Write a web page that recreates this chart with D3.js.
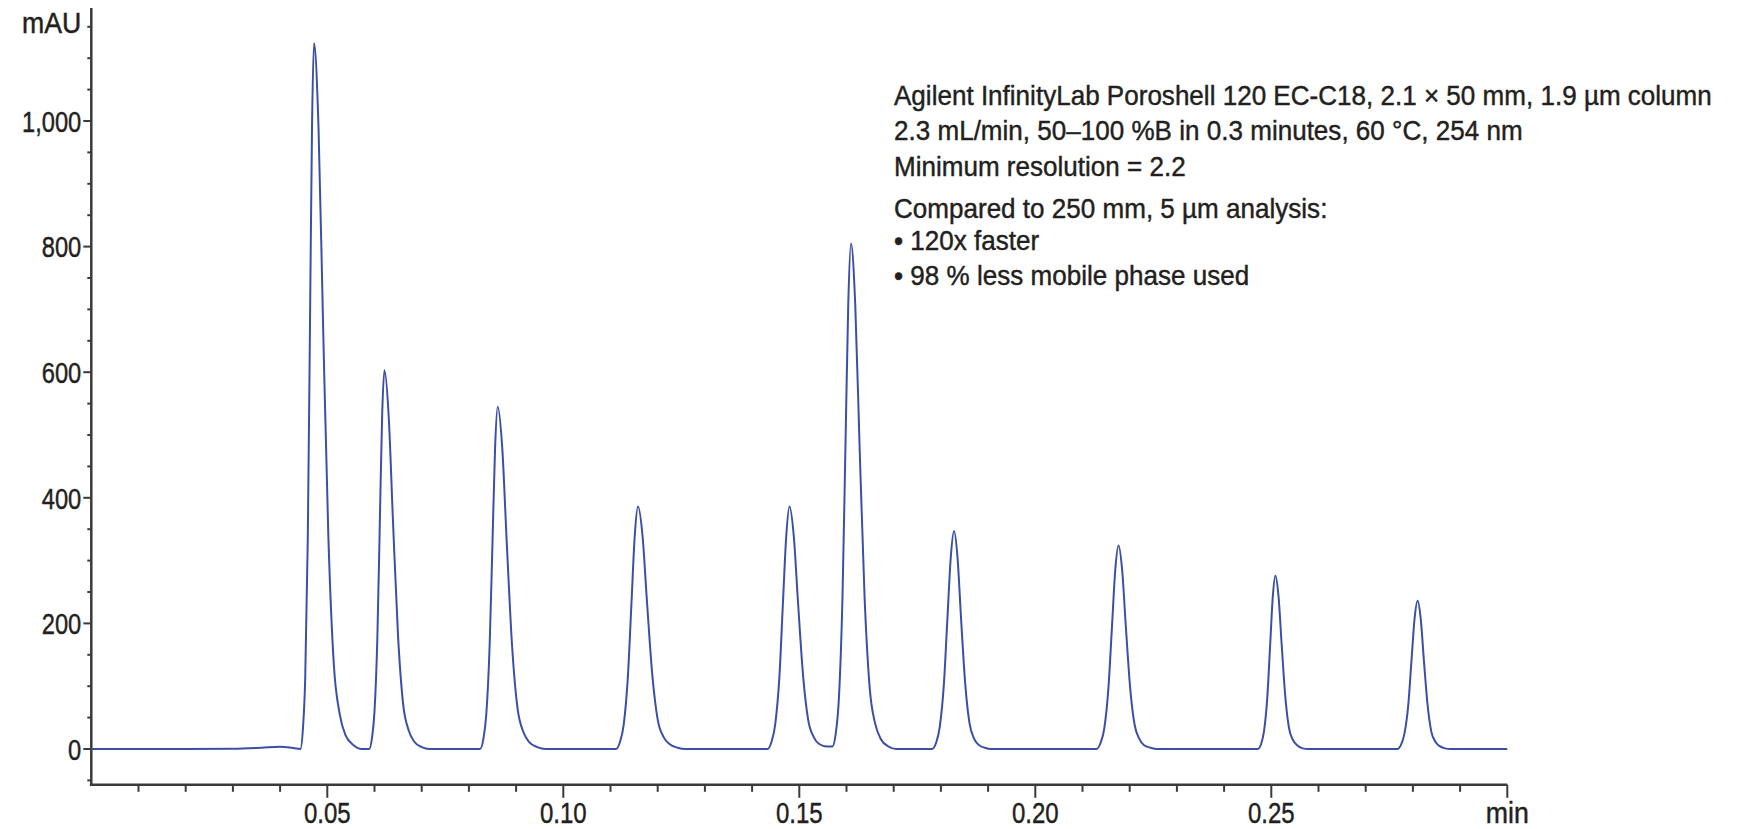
<!DOCTYPE html>
<html>
<head>
<meta charset="utf-8">
<script src="https://cdn.jsdelivr.net/npm/d3@7"></script>
<style>
  html, body { margin: 0; padding: 0; background: #fff; }
  svg text { font-family: "Liberation Sans", Arial, sans-serif; fill: #231f20; stroke: #231f20; stroke-width: 0.45px; }
</style>
</head>
<body>
<svg id="chart"></svg>
<script>
// chromatogram trace: [time (min), absorbance (mAU)]
var trace = [
  [0, 0], [0.010, 0], [0.020, 0], [0.030, 0.5], [0.036, 2], [0.040, 3.5], [0.042, 2.5], [0.0438, 0.5],
  // peak 1
  [0.04430, 0], [0.04485, 34], [0.04532, 112], [0.04587, 337], [0.04633, 674], [0.04676, 989], [0.04718, 1124],
  [0.04814, 989], [0.04911, 674], [0.05023, 337], [0.05138, 135], [0.05262, 56], [0.05386, 22], [0.05557, 6], [0.05729, 0],
  // peak 2
  [0.05886, 0], [0.05948, 18], [0.06000, 60], [0.06062, 181], [0.06113, 362], [0.06162, 531], [0.06210, 603],
  [0.06300, 531], [0.06392, 362], [0.06498, 181], [0.06606, 72], [0.06723, 30], [0.06840, 12], [0.07002, 3], [0.07164, 0],
  // peak 3
  [0.08236, 0], [0.08307, 16], [0.08368, 55], [0.08439, 164], [0.08499, 327], [0.08555, 480], [0.08610, 545],
  [0.08706, 480], [0.08803, 327], [0.08915, 164], [0.09030, 65], [0.09154, 27], [0.09278, 11], [0.09449, 3], [0.09621, 0],
  // peak 4
  [0.11114, 0], [0.11204, 12], [0.11280, 39], [0.11369, 116], [0.11444, 232], [0.11514, 340], [0.11583, 386],
  [0.11678, 340], [0.11775, 232], [0.11888, 116], [0.12002, 46], [0.12126, 19], [0.12250, 8], [0.12422, 2], [0.12593, 0],
  // peak 5
  [0.14324, 0], [0.14414, 12], [0.14489, 39], [0.14579, 116], [0.14653, 232], [0.14724, 340], [0.14792, 386],
  [0.14882, 340], [0.14974, 232], [0.15081, 116], [0.15189, 46], [0.15306, 19], [0.15423, 8], [0.15585, 4],
  // peak 6
  [0.15699, 4], [0.15775, 26], [0.15839, 81], [0.15915, 242], [0.15978, 483], [0.16037, 708], [0.16095, 805],
  [0.16185, 708], [0.16277, 483], [0.16383, 242], [0.16492, 97], [0.16609, 40], [0.16726, 16], [0.16888, 4], [0.17050, 0],
  // peak 7
  [0.17809, 0], [0.17899, 10], [0.17975, 35], [0.18064, 104], [0.18138, 208], [0.18209, 305], [0.18278, 347],
  [0.18352, 305], [0.18427, 208], [0.18515, 104], [0.18604, 42], [0.18700, 17], [0.18797, 7], [0.18930, 2], [0.19064, 0],
  // peak 8
  [0.21295, 0], [0.21384, 10], [0.21460, 32], [0.21549, 97], [0.21624, 194], [0.21694, 285], [0.21763, 324],
  [0.21840, 285], [0.21919, 194], [0.22010, 97], [0.22103, 39], [0.22204, 16], [0.22304, 6], [0.22443, 2], [0.22582, 0],
  // peak 9
  [0.24712, 0], [0.24784, 8], [0.24845, 28], [0.24916, 83], [0.24976, 166], [0.25032, 243], [0.25087, 276],
  [0.25153, 243], [0.25220, 166], [0.25297, 83], [0.25376, 33], [0.25461, 14], [0.25547, 6], [0.25665, 1], [0.25783, 0],
  // peak 10
  [0.27667, 0], [0.27750, 7], [0.27820, 24], [0.27903, 71], [0.27971, 142], [0.28036, 208], [0.28100, 236],
  [0.28165, 208], [0.28232, 142], [0.28310, 71], [0.28389, 28], [0.28474, 12], [0.28559, 5], [0.28678, 1], [0.28796, 0],
  [0.2960, 0], [0.3000, 0]
];

// axis ticks
var xMajor = [0.05, 0.10, 0.15, 0.20, 0.25, 0.30];
var xLabels = ["0.05", "0.10", "0.15", "0.20", "0.25", "min"];
var xMinor = [0.01, 0.02, 0.03, 0.04, 0.06, 0.07, 0.08, 0.09, 0.11, 0.12, 0.13, 0.14,
  0.16, 0.17, 0.18, 0.19, 0.21, 0.22, 0.23, 0.24, 0.26, 0.27, 0.28, 0.29];
var yMajor = [0, 200, 400, 600, 800, 1000];
var yMinor = [-50, 50, 100, 150, 250, 300, 350, 450, 500, 550, 650, 700, 750, 850, 900, 950, 1050, 1100, 1150];
var yUnit = "mAU", yUnitAt = 1150;

// annotation text
var notes = [
  "Agilent InfinityLab Poroshell 120 EC-C18, 2.1 × 50 mm, 1.9 µm column",
  "2.3 mL/min, 50–100 %B in 0.3 minutes, 60 °C, 254 nm",
  "Minimum resolution = 2.2",
  "Compared to 250 mm, 5 µm analysis:",
  "• 120x faster",
  "• 98 % less mobile phase used"
];
var noteY = [104.5, 139.5, 175.5, 217.5, 249.5, 284.5];

var width = 1742, height = 829;

var svg = d3.select("#chart")
  .attr("width", width)
  .attr("height", height);

var x = d3.scaleLinear().domain([0, 0.30]).range([91.3, 1507.3]),
    y = d3.scaleLinear().domain([0, 1000]).range([749, 121]);

var yTop = 1180, yBottom = -57;
var axisColor = "#3a3a3a";
// the source font is a condensed face, so labels are squeezed sideways
var narrow = 0.79;

// x axis
var xAxis = svg.append("g")
  .attr("class", "xAxis")
  .attr("transform", "translate(0," + y(yBottom) + ")");

xAxis.append("line")
  .attr("x1", x(0) - 1.5).attr("x2", x(0.30))
  .attr("stroke", axisColor).attr("stroke-width", 2.5);

xAxis.selectAll(".minor")
    .data(xMinor)
  .enter().append("line")
    .attr("class", "minor")
    .attr("x1", function(d) { return x(d); })
    .attr("x2", function(d) { return x(d); })
    .attr("y1", 0).attr("y2", 7)
    .attr("stroke", axisColor).attr("stroke-width", 2);

xAxis.selectAll(".major")
    .data(xMajor)
  .enter().append("line")
    .attr("class", "major")
    .attr("x1", function(d) { return x(d); })
    .attr("x2", function(d) { return x(d); })
    .attr("y1", 0).attr("y2", 13)
    .attr("stroke", axisColor).attr("stroke-width", 2);

xAxis.selectAll(".lbl")
    .data(xMajor)
  .enter().append("text")
    .attr("class", "lbl")
    .attr("transform", function(d, i) {
      var sx = xLabels[i] === "min" ? 0.89 : 0.8;
      return "translate(" + x(d) + ",38) scale(" + sx + ",1)";
    })
    .attr("text-anchor", "middle")
    .style("font-size", "30px")
    .text(function(d, i) { return xLabels[i]; });

// y axis
var yAxis = svg.append("g")
  .attr("class", "yAxis")
  .attr("transform", "translate(" + x(0) + ",0)");

yAxis.append("line")
  .attr("y1", y(yTop)).attr("y2", y(yBottom) + 1.2)
  .attr("stroke", axisColor).attr("stroke-width", 2.5);

yAxis.selectAll(".minor")
    .data(yMinor)
  .enter().append("line")
    .attr("class", "minor")
    .attr("y1", function(d) { return y(d); })
    .attr("y2", function(d) { return y(d); })
    .attr("x1", -4).attr("x2", 0)
    .attr("stroke", axisColor).attr("stroke-width", 2);

yAxis.selectAll(".major")
    .data(yMajor)
  .enter().append("line")
    .attr("class", "major")
    .attr("y1", function(d) { return y(d); })
    .attr("y2", function(d) { return y(d); })
    .attr("x1", -8).attr("x2", 0)
    .attr("stroke", axisColor).attr("stroke-width", 2);

yAxis.selectAll(".lbl")
    .data(yMajor)
  .enter().append("text")
    .attr("class", "lbl")
    .attr("transform", function(d) { return "translate(-10," + (y(d) + 10.7) + ") scale(" + narrow + ",1)"; })
    .attr("text-anchor", "end")
    .style("font-size", "30px")
    .text(d3.format(","));

yAxis.append("text")
  .attr("transform", "translate(-10," + (y(yUnitAt) + 6) + ") scale(0.92,1)")
  .attr("text-anchor", "end")
  .style("font-size", "29px")
  .text(yUnit);

// the trace
var line = d3.line()
  .x(function(d) { return x(d[0]); })
  .y(function(d) { return y(d[1]); })
  .curve(d3.curveMonotoneX);

svg.append("path")
  .datum(trace)
  .attr("class", "trace")
  .attr("d", line)
  .attr("fill", "none")
  .attr("stroke", "#3c4fa6")
  .attr("stroke-width", 2)
  .attr("stroke-linejoin", "round");

// annotation block, squeezed so the first line spans the same width as the source
var noteG = svg.append("g").attr("class", "notes");
var noteText = noteG.selectAll("text")
    .data(notes)
  .enter().append("text")
    .style("font-size", "28.5px")
    .text(function(d) { return d; });

var firstLen = noteText.node().getComputedTextLength();
var noteScale = firstLen > 0 ? 818 / firstLen : narrow;
noteText.attr("transform", function(d, i) {
  return "translate(894," + noteY[i] + ") scale(" + noteScale + ",1)";
});
</script>
</body>
</html>
